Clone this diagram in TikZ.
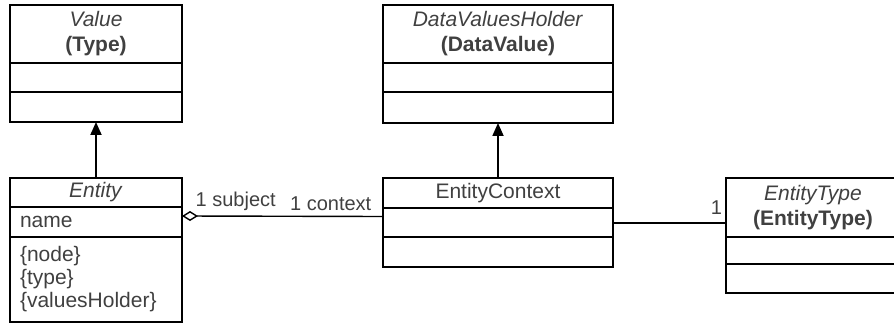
\documentclass[tikz,border=0pt]{standalone}
\usepackage{fontspec}
\setmainfont{Liberation Sans}
\usetikzlibrary{positioning,arrows.meta}

\tikzset{
  box/.style={draw, line width=0.9pt, inner sep=0pt, outer sep=0pt, align=center,
    text=black!75, font=\fontsize{10.5}{12.5}\selectfont},
  gen/.style={line width=0.9pt, -{Triangle[length=6.5pt, width=5.5pt]}},
  agg/.style={line width=0.7pt, {Diamond[open, length=8pt, width=5pt]}-},
  assoc/.style={line width=1pt},
  role/.style={text=black!75, font=\fontsize{10}{12}\selectfont, inner sep=1.5pt}
}

\begin{document}
\begin{tikzpicture}[x=0.5pt, y=-0.5pt]
    \useasboundingbox (0,0) rectangle (894,326);
    \clip (0,0) rectangle (894,326);

    % Draw the Value class
    \node[box, minimum width=86pt, minimum height=29pt] (valuehead) at (96,34)
      {\textit{Value}\\\textbf{(Type)}};
    \node[box, minimum width=86pt, minimum height=14.5pt, below=0pt of valuehead] (valueattr) {};
    \node[box, minimum width=86pt, minimum height=15pt, below=0pt of valueattr] (valueops) {};

    % Draw the DataValuesHolder class
    \node[box, minimum width=115pt, minimum height=29pt] (dvhead) at (498,34)
      {\textit{DataValuesHolder}\\\textbf{(DataValue)}};
    \node[box, minimum width=115pt, minimum height=14.5pt, below=0pt of dvhead] (dvattr) {};
    \node[box, minimum width=115pt, minimum height=15.5pt, below=0pt of dvattr] (dvops) {};

    % Draw the Entity class
    \node[box, minimum width=86pt, minimum height=14.5pt] (entityhead) at (96,192.5)
      {\textit{Entity}};
    \node[box, minimum width=86pt, minimum height=15pt, below=0pt of entityhead,
      text width=76pt, align=left] (entityattr) {name};
    \node[box, minimum width=86pt, minimum height=42.5pt, below=0pt of entityattr,
      text width=76pt, align=left, font=\fontsize{10.5}{11.5}\selectfont] (entityops)
      {\{node\}\\\{type\}\\\{valuesHolder\}};

    % Draw the EntityContext class
    \node[box, minimum width=115pt, minimum height=15pt] (ctxhead) at (498,193)
      {EntityContext};
    \node[box, minimum width=115pt, minimum height=14.5pt, below=0pt of ctxhead] (ctxattr) {};
    \node[box, minimum width=115pt, minimum height=15pt, below=0pt of ctxattr] (ctxops) {};

    % Draw the EntityType class
    \node[box, minimum width=87pt, minimum height=29.5pt] (typehead) at (813,207.5)
      {\textit{EntityType}\\\textbf{(EntityType)}};
    \node[box, minimum width=87pt, minimum height=13.5pt, below=0pt of typehead] (typeattr) {};
    \node[box, minimum width=87pt, minimum height=14.5pt, below=0pt of typeattr] (typeops) {};

    % Draw the generalizations
    \draw[gen] (entityhead.north) -- (valueops.south);
    \draw[gen] (ctxhead.north) -- (dvops.south);

    % Draw the aggregation between Entity and EntityContext
    \draw[agg] ([yshift=3pt]entityattr.east) -- ([yshift=3pt]ctxattr.west)
      node[role, pos=0, above right, xshift=5pt, yshift=1pt] {1 subject}
      node[role, pos=1, above left, xshift=-4pt, yshift=1pt] {1 context};

    % Draw the association to EntityType
    \draw[assoc] (ctxattr.east) -- (ctxattr.east -| typehead.west)
      node[role, pos=1, above left, yshift=2pt] {1};
\end{tikzpicture}
\end{document}
